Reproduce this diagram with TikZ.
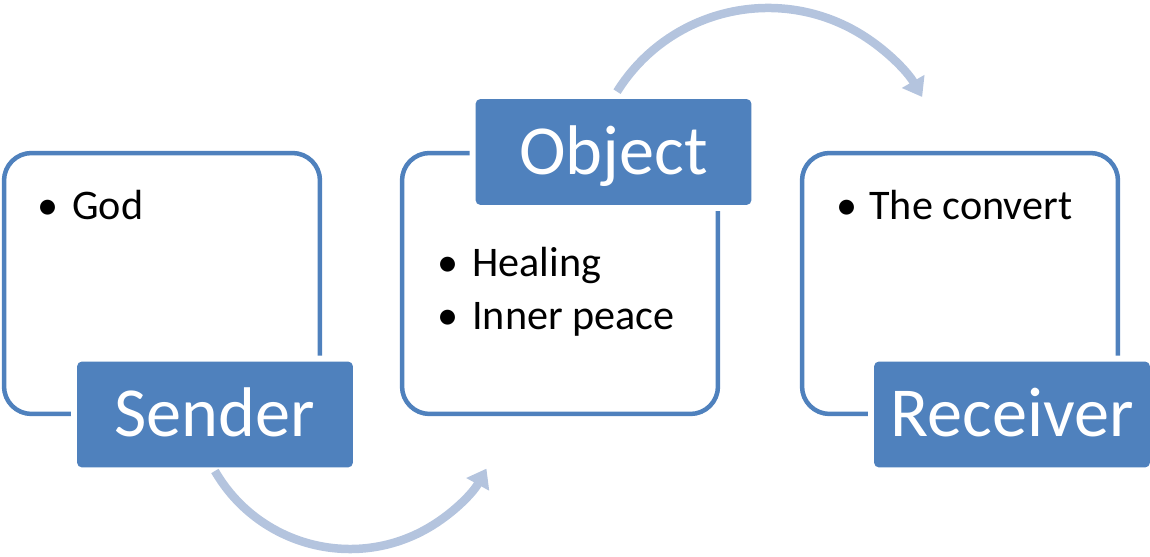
\documentclass[tikz,border=0pt]{standalone}
\usepackage{fontspec}
\setmainfont{Carlito}
\usetikzlibrary{arrows.meta}
\definecolor{tagblue}{HTML}{4F81BD}
\definecolor{flowblue}{HTML}{B4C4DE}
\begin{document}
\begin{tikzpicture}[x=0.02cm,y=0.02cm, line join=round,
    card/.style={draw=tagblue,line width=0.09cm,rounded corners=0.55cm,minimum width=6.32cm,minimum height=5.22cm,inner sep=0pt},
    tag/.style={fill=tagblue,text=white,rounded corners=0.1cm,minimum width=5.52cm,minimum height=2.12cm,inner sep=0pt,
        font=\fontsize{40}{48}\selectfont,text height=25.6pt,text depth=0pt,preaction={draw=white,line width=0.24cm}},
    item/.style={anchor=base west,inner sep=0pt,font=\fontsize{24}{30}\selectfont},
    flow/.style={draw=flowblue,line width=0.17cm,-{Triangle[width=0.5cm,length=0.36cm]}}]
    \def\lx{350} \def\ly{164} \def\lr{156}
    \def\ux{768} \def\uy{371} \def\ur{178}
    \useasboundingbox (0,0) rectangle (1150,557);
    % the three boxes
    \node[card] (sendbox) at (162,273.5) {};
    \node[card] (objbox) at (560,273.5) {};
    \node[card] (recbox) at (960,273.5) {};
    % bullet texts
    \node[item] (god) at (37,337) {\makebox[0.7cm][l]{\textbullet}God};
    \node[item] (heal) at (437,280) {\makebox[0.7cm][l]{\textbullet}Healing};
    \node[item] (peace) at (437,227) {\makebox[0.7cm][l]{\textbullet}Inner peace};
    \node[item] (convert) at (836,337) {\makebox[0.66cm][l]{\textbullet}The convert};
    % labels
    \node[tag] (sender) at (215,142.5) {Sender};
    \node[tag] (object) at (613.5,405) {Object};
    \node[tag] (receiver) at (1012,142.5) {Receiver};
    % curved arrows
    \coordinate (lowstart) at ({\lx+\lr*cos(210)},{\ly+\lr*sin(210)});
    \coordinate (upstart) at ({\ux+\ur*cos(148)},{\uy+\ur*sin(148)});
    \draw[flow] (lowstart) arc[start angle=210,end angle=331,radius=\lr];
    \draw[flow] (upstart) arc[start angle=148,end angle=30,radius=\ur];
\end{tikzpicture}
\end{document}
